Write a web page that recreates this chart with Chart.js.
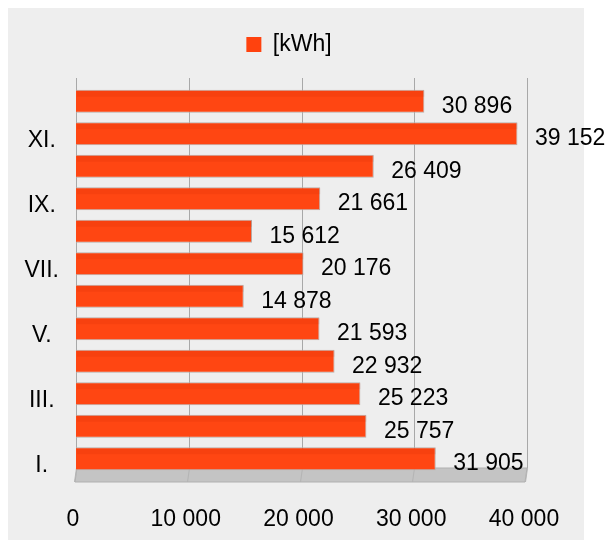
<!DOCTYPE html>
<html><head><meta charset="utf-8">
<script src="https://cdn.jsdelivr.net/npm/chart.js@4"></script>
<style>html,body{margin:0;padding:0;background:#fff}#wrap{width:614px;height:542px;position:relative}</style>
</head><body><div id="wrap"><canvas id="c" width="614" height="542"></canvas></div>
<script>
const months = ['I.','II.','III.','IV.','V.','VI.','VII.','VIII.','IX.','X.','XI.','XII.'];
const kwh = [31905, 25757, 25223, 22932, 21593, 14878, 20176, 15612, 21661, 26409, 39152, 30896];
const xTicks = [0, 10000, 20000, 30000, 40000];
const seriesName = '[kWh]';

const fmt = v => String(v).replace(/\B(?=(\d{3})+(?!\d))/g, ' ');
const FONT = '"Liberation Sans", Arial, sans-serif';

const panelPlugin = {
  id: 'panel',
  beforeDraw(chart) {
    const ctx = chart.ctx;
    ctx.save();
    ctx.fillStyle = '#ffffff';
    ctx.fillRect(0, 0, chart.width, chart.height);
    ctx.fillStyle = '#eeeeee';
    ctx.fillRect(8, 8, 576, 532);
    ctx.restore();
  }
};

const wallPlugin = {
  id: 'wall',
  beforeDatasetsDraw(chart) {
    const {ctx, chartArea: a, scales: {x}} = chart;
    const d = 7;
    ctx.save();
    const l0 = x.getPixelForValue(x.min), l1 = x.getPixelForValue(x.max);
    ctx.fillStyle = '#c4c4c4';
    ctx.beginPath();
    ctx.moveTo(l0 + 1, a.bottom - d);
    ctx.lineTo(l1, a.bottom - d);
    ctx.lineTo(l1 - 2, a.bottom + d);
    ctx.lineTo(l0 - 1, a.bottom + d);
    ctx.closePath();
    ctx.fill();
    ctx.strokeStyle = '#b0b0b0';
    ctx.lineWidth = 1;
    ctx.stroke();
    x.ticks.forEach(t => {
      const px = Math.round(x.getPixelForValue(t.value)) + 0.5;
      ctx.strokeStyle = '#a8a8a8';
      ctx.beginPath();
      ctx.moveTo(px, a.top - d);
      ctx.lineTo(px, a.bottom - d);
      ctx.stroke();
      ctx.strokeStyle = '#b4b4b4';
      ctx.beginPath();
      ctx.moveTo(px, a.bottom - d);
      ctx.lineTo(px - 2, a.bottom + d);
      ctx.stroke();
    });
    ctx.restore();
  }
};

const valuePlugin = {
  id: 'vals',
  afterDatasetsDraw(chart) {
    const ctx = chart.ctx;
    const meta = chart.getDatasetMeta(0);
    const data = chart.data.datasets[0].data;
    ctx.save();
    meta.data.forEach((bar, i) => {
      const {x, y, base, height} = bar.getProps(['x', 'y', 'base', 'height'], true);
      const top = y - height / 2;
      ctx.fillStyle = 'rgba(190,40,0,0.13)';
      ctx.fillRect(base + 1, top + 1, x - base - 1, Math.round(height * 0.28));
      ctx.fillStyle = '#000';
      ctx.font = '23px ' + FONT;
      ctx.textAlign = 'left';
      ctx.textBaseline = 'middle';
      ctx.fillText(fmt(data[i]), x + 17.5, y + 5);
    });
    ctx.restore();
  }
};

new Chart(document.getElementById('c'), {
  type: 'bar',
  data: {
    labels: months,
    datasets: [{
      label: seriesName,
      data: kwh,
      backgroundColor: '#ff4612',
      borderColor: '#b9aca6',
      borderWidth: 1,
      borderSkipped: 'left',
      barPercentage: 0.71,
      categoryPercentage: 1
    }]
  },
  options: {
    indexAxis: 'y',
    responsive: false,
    animation: false,
    devicePixelRatio: 1,
    layout: {padding: {left: 0, right: 36, top: 23, bottom: 0}},
    plugins: {
      tooltip: {enabled: false},
      title: {
        display: true,
        text: '',
        position: 'top',
        weight: 500,
        padding: 0,
        font: {size: 10, lineHeight: '19px'}
      },
      legend: {
        display: true,
        position: 'top',
        weight: 1000,
        labels: {
          boxWidth: 15,
          boxHeight: 15,
          padding: 10,
          color: '#000',
          font: {family: FONT, size: 23},
          generateLabels(chart) {
            const items = Chart.defaults.plugins.legend.labels.generateLabels(chart);
            items.forEach(it => { it.lineWidth = 0; it.strokeStyle = 'rgba(0,0,0,0)'; it.fillStyle = '#ff420e'; });
            return items;
          }
        }
      }
    },
    scales: {
      x: {
        min: 0,
        max: 40000,
        afterBuildTicks(s) { s.ticks = xTicks.map(v => ({value: v})); },
        ticks: {
          padding: 31,
          labelOffset: -3,
          maxRotation: 0,
          color: '#000',
          font: {family: FONT, size: 23},
          callback: v => fmt(v)
        },
        grid: {display: false, drawTicks: false},
        border: {display: false},
        afterFit(s) { s.paddingLeft = 0; s.paddingRight = 87; s.height = 67; }
      },
      y: {
        reverse: true,
        ticks: {
          autoSkip: false,
          padding: 17,
          crossAlign: 'center',
          labelOffset: 7,
          color: '#000',
          font: {family: FONT, size: 23},
          callback: (v, i) => (i % 2 === 0 ? months[i] : '')
        },
        grid: {display: false, drawTicks: false},
        border: {display: false},
        afterFit(s) { s.width = 76; s.paddingTop = 0; s.paddingBottom = 0; }
      }
    }
  },
  plugins: [panelPlugin, wallPlugin, valuePlugin]
});
</script>
</body></html>
